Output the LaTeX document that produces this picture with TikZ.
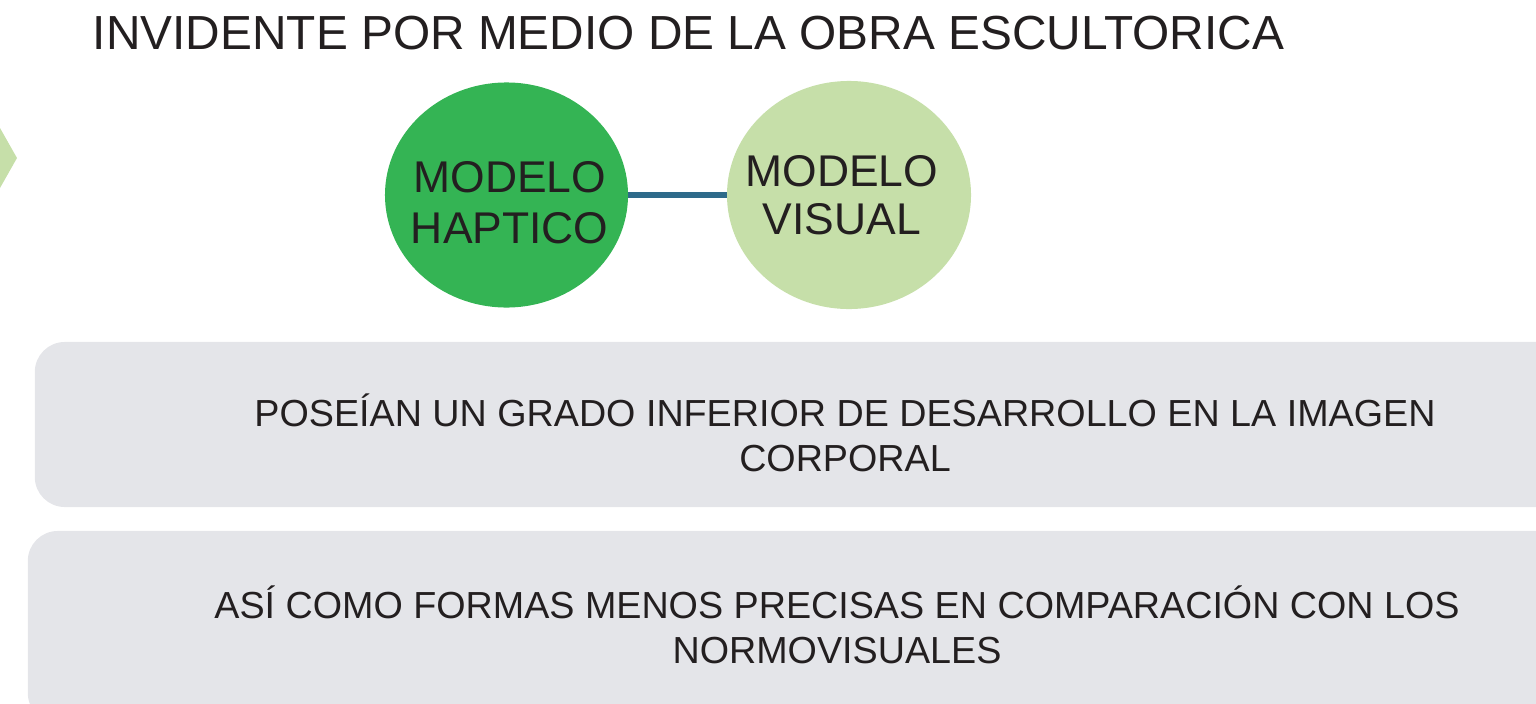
\documentclass[tikz,border=0pt]{standalone}
\usepackage{fontspec}
\setmainfont{Liberation Sans}
\usetikzlibrary{shapes.geometric}
\definecolor{inkgray}{HTML}{231F20}
\definecolor{hapticgreen}{HTML}{34B454}
\definecolor{visualgreen}{HTML}{C6DFA9}
\definecolor{linkblue}{HTML}{2E6A8A}
\definecolor{boxgray}{HTML}{E4E5E9}
\begin{document}
\begin{tikzpicture}[x=0.025cm,y=-0.025cm]
    % Define the styles for the models, the boxes and the link
    \tikzstyle{model}=[ellipse, inner sep=0pt]
    \tikzstyle{modeltext}=[text=inkgray, align=center, font=\fontsize{31.6}{36}\selectfont]
    \tikzstyle{textbox}=[rectangle, rounded corners=0.75cm, fill=boxgray]
    \tikzstyle{boxtext}=[text=inkgray, align=center, font=\fontsize{26.8}{32}\selectfont]
    \tikzstyle{link}=[line width=4.3pt, draw=linkblue]

    \useasboundingbox (0,0) rectangle (1536,703);
    \clip (0,0) rectangle (1536,703);

    % Title and the cut-off chevron on the left
    \node[text=inkgray, font=\fontsize{34}{40}\selectfont, anchor=west] (title) at (88,33) {INVIDENTE POR MEDIO DE LA OBRA ESCULTORICA};
    \fill[visualgreen] (-20,128) -- (0,128) -- (17,158) -- (0,188) -- (-20,188) -- cycle;

    % Draw the models
    \node[model, fill=hapticgreen, minimum width=6.075cm, minimum height=5.625cm,
          label={[modeltext, yshift=-0.2cm, xshift=0.08cm]center:MODELO\\HAPTICO}] (haptic) at (506.5,195) {};
    \node[model, fill=visualgreen, minimum width=6.1cm, minimum height=5.7cm,
          label={[modeltext, font=\fontsize{31.6}{34}\selectfont, xshift=-0.18cm]center:MODELO\\VISUAL}] (visual) at (849,195) {};

    % Draw the boxes
    \node[textbox, minimum width=40.5cm, minimum height=4.125cm,
          label={[boxtext, yshift=-0.22cm]center:POSEÍAN UN GRADO INFERIOR DE DESARROLLO EN LA IMAGEN\\CORPORAL}] (grado) at (845,424.5) {};
    \node[textbox, minimum width=40.45cm, minimum height=4.8cm,
          label={[boxtext, yshift=0.06cm]center:ASÍ COMO FORMAS MENOS PRECISAS EN COMPARACIÓN CON LOS\\NORMOVISUALES}] (formas) at (837,627) {};

    % Draw the link between the models
    \draw[link] (haptic) -- (visual);
\end{tikzpicture}
\end{document}
